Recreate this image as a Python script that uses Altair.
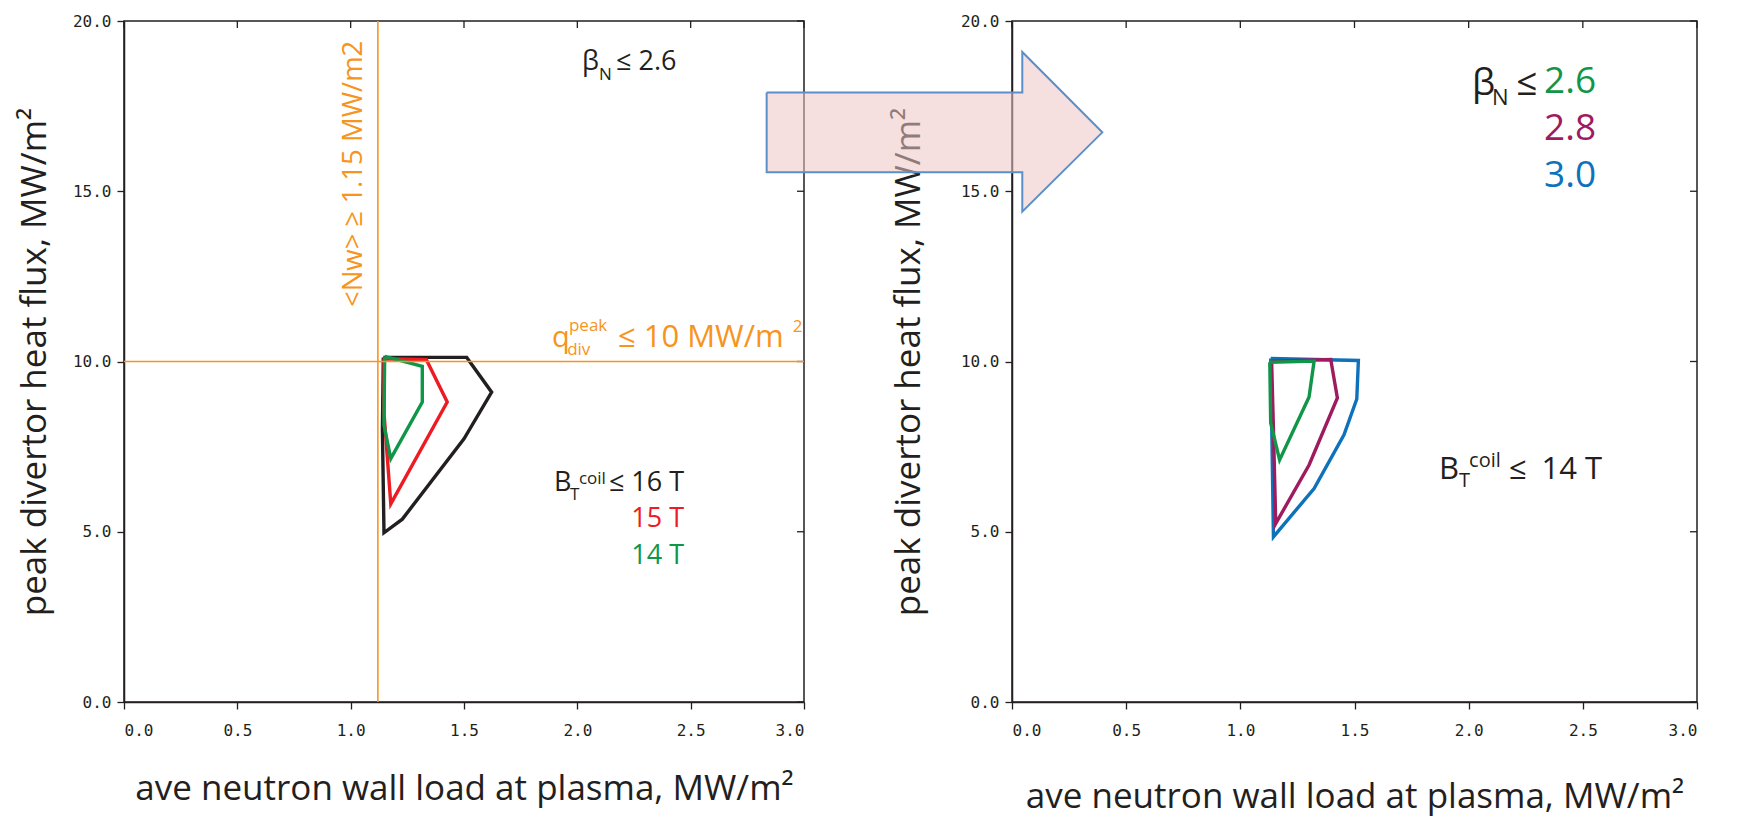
import altair as alt
import pandas as pd

# ---------------- data ----------------
# left panel: operating-space contours for B_T^coil <= 16, 15, 14 T (beta_N <= 2.6)
left_black_x = [1.144, 1.512, 1.622, 1.500, 1.228, 1.147, 1.140, 1.144]
left_black_y = [10.12, 10.12, 9.10, 7.73, 5.37, 4.97, 8.00, 10.12]
left_red_x = [1.147, 1.334, 1.426, 1.177, 1.147, 1.147]
left_red_y = [10.08, 10.05, 8.81, 5.82, 8.50, 10.08]
left_green_x = [1.150, 1.316, 1.316, 1.177, 1.147, 1.150]
left_green_y = [10.15, 9.86, 8.81, 7.15, 8.13, 10.15]

# right panel: contours for beta_N <= 2.6, 2.8, 3.0 (B_T^coil <= 14 T)
right_blue_x = [1.133, 1.517, 1.510, 1.454, 1.323, 1.145, 1.133]
right_blue_y = [10.09, 10.03, 8.90, 7.85, 6.27, 4.85, 10.09]
right_purple_x = [1.137, 1.396, 1.425, 1.301, 1.155, 1.145, 1.137]
right_purple_y = [10.01, 10.06, 8.93, 6.96, 5.24, 8.00, 10.01]
right_green_x = [1.129, 1.323, 1.301, 1.172, 1.133, 1.129]
right_green_y = [9.98, 10.01, 8.96, 7.11, 8.19, 9.98]

# constraint lines (left panel)
nw_limit = [1.12]
qdiv_limit = [10.0]

# arrow outline (in right-panel data units)
arrow_x = [-1.0745, 0.0451, 0.0451, 0.3955, 0.0451, 0.0451, -1.0745, -1.0745]
arrow_y = [17.90, 17.90, 19.09, 16.73, 14.40, 15.56, 15.56, 17.90]

x_ticks = [0.0, 0.5, 1.0, 1.5, 2.0, 2.5, 3.0]
y_ticks = [0.0, 5.0, 10.0, 15.0, 20.0]

BLACK = "#231f20"
RED = "#ed1c24"
GREEN = "#109648"
ORANGE = "#f7941d"
PURPLE = "#9e1b5f"
BLUE = "#0d72bb"

# annotation pieces: text, x, y, size, color
left_text_l = [
    ("β", 2.021, 18.56, 27, BLACK), ("N", 2.096, 18.27, 17, BLACK), ("≤ 2.6", 2.171, 18.56, 27, BLACK),
    ("q", 1.888, 10.42, 29, ORANGE), ("div", 1.955, 10.20, 17, ORANGE), ("peak", 1.963, 10.90, 17, ORANGE),
    ("≤ 10 MW/m", 2.179, 10.42, 31, ORANGE), ("2", 2.950, 10.87, 17, ORANGE),
    ("B", 1.897, 6.197, 27, BLACK), ("T", 1.968, 5.93, 17, BLACK), ("coil", 2.007, 6.40, 17, BLACK),
    ("≤", 2.140, 6.197, 27, BLACK),
]
left_text_r = [
    ("16 T", 2.471, 6.197, 27, BLACK), ("15 T", 2.471, 5.14, 27, RED), ("14 T", 2.471, 4.05, 27, GREEN),
]
left_text_rot = [("<Nw> ≥ 1.15 MW/m2", 1.015, 15.51, 27.5, ORANGE)]

right_text_l = [
    ("β", 2.015, 17.82, 37, BLACK), ("N", 2.102, 17.53, 22, BLACK), ("≤", 2.208, 17.82, 37, BLACK),
    ("B", 1.870, 6.56, 31, BLACK), ("T", 1.958, 6.32, 20, BLACK), ("coil", 2.002, 6.91, 20, BLACK),
    ("≤", 2.177, 6.56, 31, BLACK),
]
right_text_r = [
    ("2.6", 2.558, 17.88, 37, GREEN), ("2.8", 2.558, 16.50, 37, PURPLE), ("3.0", 2.558, 15.12, 37, BLUE),
    ("14 T", 2.584, 6.56, 31, BLACK),
]

X_TITLE = "ave neutron wall load at plasma, MW/m²"
Y_TITLE = "peak divertor heat flux, MW/m²"
TEXT_FONT = "Open Sans"


def poly(xs, ys):
    return pd.DataFrame({"x": xs, "y": ys, "o": list(range(len(xs)))})


def tdf(rows):
    return pd.DataFrame(rows, columns=["t", "x", "y", "s", "c"])


def panel(W, H, polys, texts_l, texts_r, texts_rot, extra, x_title_pad, y_title_pad):
    xs = alt.Scale(domain=[0, 3], nice=False, zero=False)
    ys = alt.Scale(domain=[0, 20], nice=False, zero=False)
    xax = alt.Axis(values=x_ticks, format=".1f", title=X_TITLE,
                   tickSize=7, labelPadding=13, titlePadding=x_title_pad)
    yax = alt.Axis(values=y_ticks, format=".1f", title=Y_TITLE,
                   tickSize=7, labelPadding=6, titlePadding=y_title_pad)
    xenc = alt.X("x:Q", scale=xs, axis=xax)
    yenc = alt.Y("y:Q", scale=ys, axis=yax)
    layers = []
    # inner ticks on top and right frame
    top_ticks = pd.DataFrame({"x": x_ticks})
    layers.append(alt.Chart(top_ticks).mark_rule(color=BLACK, strokeWidth=1.3).encode(
        x=xenc, y=alt.value(0), y2=alt.value(7)))
    right_ticks = pd.DataFrame({"y": y_ticks})
    layers.append(alt.Chart(right_ticks).mark_rule(color=BLACK, strokeWidth=1.3).encode(
        y=yenc, x=alt.value(W), x2=alt.value(W - 7)))
    for df, col in polys:
        layers.append(alt.Chart(df).mark_line(color=col, strokeWidth=3.4, strokeJoin="miter").encode(
            x=xenc, y=yenc, order="o:Q"))
    layers += extra(xenc, yenc)
    for rows, align, angle in ((texts_l, "left", 0), (texts_r, "right", 0), (texts_rot, "center", 270)):
        if not rows:
            continue
        kw = dict(font=TEXT_FONT, align=align, baseline="alphabetic" if angle == 0 else "middle")
        if angle:
            kw["angle"] = angle
        layers.append(alt.Chart(tdf(rows)).mark_text(**kw).encode(
            x=xenc, y=yenc, text="t:N",
            size=alt.Size("s:Q", scale=None), color=alt.Color("c:N", scale=None)))
    return alt.layer(*layers).properties(width=W, height=H)


def left_extra(xenc, yenc):
    v = alt.Chart(pd.DataFrame({"x": nw_limit})).mark_rule(color=ORANGE, strokeWidth=1.6).encode(x=xenc)
    h = alt.Chart(pd.DataFrame({"y": qdiv_limit})).mark_rule(color=ORANGE, strokeWidth=1.6).encode(y=yenc)
    return [v, h]


def arrow_layer(xenc, yenc):
    return [alt.Chart(poly(arrow_x, arrow_y)).mark_line(
        fill="#edc4c4", fillOpacity=0.55, stroke="#5b8fc9", strokeWidth=2, strokeJoin="miter").encode(
        x=xenc, y=yenc, order="o:Q")]


left = panel(680, 681,
             [(poly(left_black_x, left_black_y), BLACK), (poly(left_red_x, left_red_y), RED),
              (poly(left_green_x, left_green_y), GREEN)],
             left_text_l, left_text_r, left_text_rot, left_extra, 33, 20)

right = panel(685, 681,
              [(poly(right_blue_x, right_blue_y), BLUE), (poly(right_purple_x, right_purple_y), PURPLE),
               (poly(right_green_x, right_green_y), GREEN)],
              right_text_l, right_text_r, [], arrow_layer, 41, 34)

chart = alt.hconcat(left, right, spacing=208, bounds="flush").properties(
    padding={"left": 16, "top": 12, "right": 5, "bottom": 2},
    background="white",
).configure_view(stroke=BLACK, strokeWidth=1.5).configure_axis(
    grid=False, domainColor=BLACK, domainWidth=1.5, tickColor=BLACK, tickWidth=1.3,
    labelFont="DejaVu Sans Mono", labelFontSize=16, labelColor=BLACK,
    titleFont=TEXT_FONT, titleFontSize=35, titleFontWeight="normal", titleColor=BLACK,
)

chart.save("out.html", embed_options={"renderer": "svg", "actions": False})
